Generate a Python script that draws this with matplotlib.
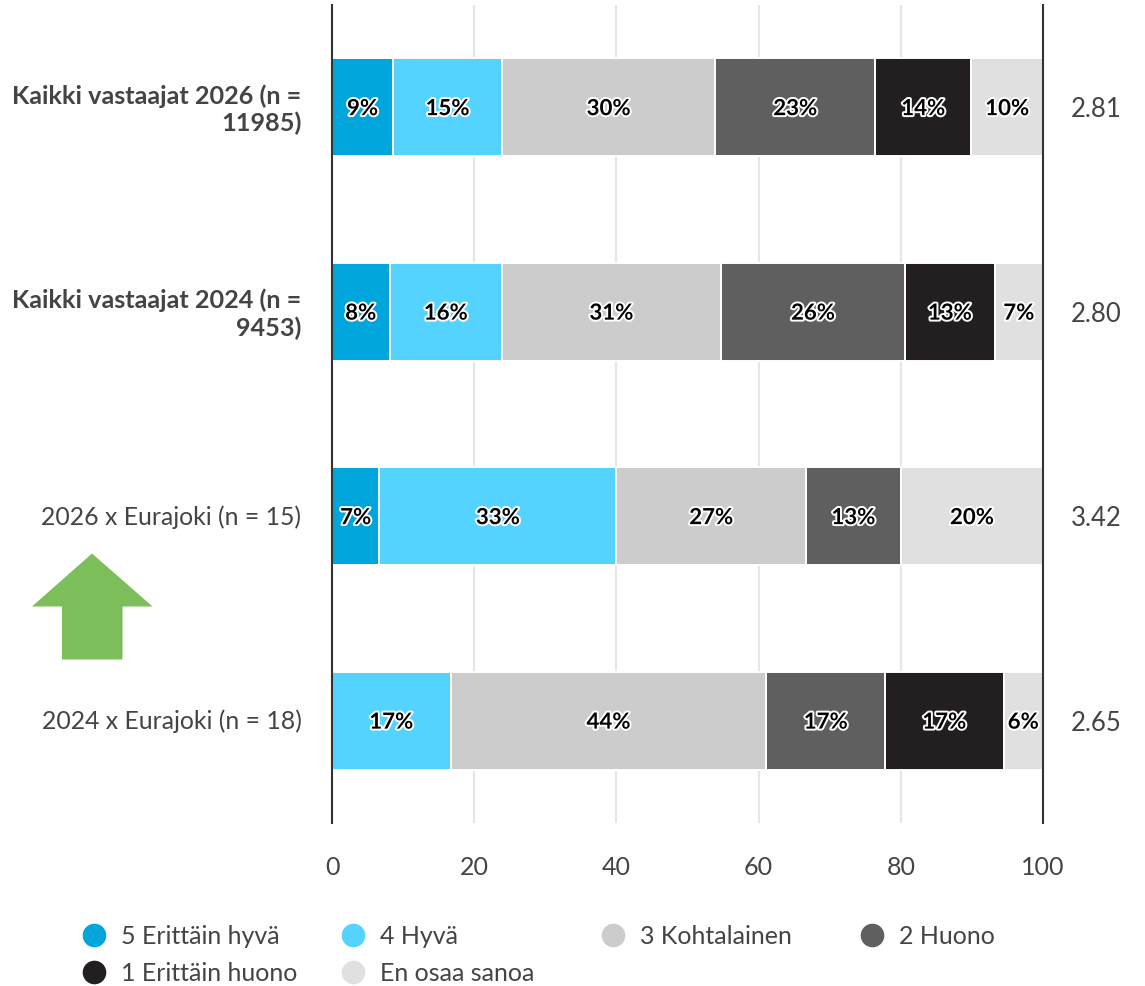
import numpy as np
import matplotlib
matplotlib.use("Agg")
import matplotlib.pyplot as plt
import matplotlib.patheffects as pe
from matplotlib.lines import Line2D
from matplotlib.patches import Polygon
from matplotlib.transforms import ScaledTranslation

plt.rcParams["font.family"] = ["Lato", "Open Sans", "DejaVu Sans"]

W = 1145
H = 987
TEXT = "#444444"

categories = ["Kaikki vastaajat 2026 (n =\n11985)", "Kaikki vastaajat 2024 (n =\n9453)",
              "2026 x Eurajoki (n = 15)", "2024 x Eurajoki (n = 18)"]
bold_rows = [True, True, False, False]
means = ["2.81", "2.80", "3.42", "2.65"]
series = ["5 Erittäin hyvä", "4 Hyvä", "3 Kohtalainen", "2 Huono", "1 Erittäin huono", "En osaa sanoa"]
colors = ["#00A5DB", "#55D3FF", "#CCCCCC", "#5F5F5F", "#231F20", "#E0E0E0"]
erittain_hyva = [8.6, 8.1, 6.67, 0]
hyva = [15.3, 15.8, 33.33, 16.67]
kohtalainen = [30.0, 30.8, 26.67, 44.44]
huono = [22.51, 25.9, 13.33, 16.67]
erittain_huono = [13.5, 12.6, 0, 16.67]
eos = [10.09, 6.8, 20.0, 5.55]
xticks = [0, 20, 40, 60, 80, 100]


def px_x(x):
    return x / W


def px_y(y):
    return 1 - y / H


fig = plt.figure(figsize=(W / 100, H / 100), dpi=100)
ax = fig.add_axes([px_x(332), px_y(824), (1043 - 332) / W, (824 - 6) / H])

y = np.arange(len(categories))
left = np.zeros(len(categories))
values = [erittain_hyva, hyva, kohtalainen, huono, erittain_huono, eos]
for vals, col in zip(values, colors):
    vals = np.array(vals)
    bars = ax.barh(y, vals, 0.48, left=left, color=col, edgecolor="white", linewidth=1.4, zorder=2)
    for b, v in zip(bars, vals):
        if v > 0:
            ax.annotate(f"{v:.0f}%", (b.get_x() + v / 2, b.get_y() + b.get_height() / 2),
                        xytext=(0, -1), textcoords="offset points", ha="center", va="center",
                        fontsize=16, fontweight="bold", color="black", zorder=3,
                        path_effects=[pe.withStroke(linewidth=2.8, foreground="white")])
    left += vals

ax.set_xlim(0, 100)
ax.set_ylim(len(categories) - 0.5, -0.5)
ax.set_xticks(xticks)
ax.set_yticks(y)
ax.set_yticklabels(categories)
ax.tick_params(axis="x", length=0, pad=23, labelsize=18, labelcolor=TEXT)
ax.tick_params(axis="y", length=0, pad=22, labelsize=18, labelcolor=TEXT)
for lab, b in zip(ax.get_yticklabels(), bold_rows):
    lab.set_fontweight("bold" if b else "normal")
    lab.set_fontsize(18.2 if b else 17.8)
    lab.set_transform(lab.get_transform() + ScaledTranslation(0, 2.5 / 100, fig.dpi_scale_trans))
ax.grid(axis="x", color="#E6E6E6", linewidth=1.5, zorder=0)
ax.set_axisbelow(True)
for s in ["top", "bottom"]:
    ax.spines[s].set_visible(False)
for s in ["left", "right"]:
    ax.spines[s].set_color("#333333")
    ax.spines[s].set_linewidth(1.5)
    ax.spines[s].set_zorder(4)

ax2 = ax.twinx()
ax2.set_ylim(ax.get_ylim())
ax2.set_yticks(y)
ax2.set_yticklabels(means)
ax2.tick_params(axis="y", length=0, pad=20, labelsize=18.5, labelcolor=TEXT)
for lab in ax2.get_yticklabels():
    lab.set_transform(lab.get_transform() + ScaledTranslation(0, 1 / 100, fig.dpi_scale_trans))
for s in ax2.spines.values():
    s.set_visible(False)

# arrow next to the 2026 row
arrow = [(32, 607.5), (92, 554.5), (152.5, 607.5), (122.5, 607.5), (122.5, 660.5), (62, 660.5), (62, 607.5)]
fig.add_artist(Polygon([(px_x(a), px_y(b)) for a, b in arrow], closed=True, transform=fig.transFigure,
                       facecolor="#7CBF5A", edgecolor="none"))

# legend, laid out by hand to keep the fixed columns
leg_x = [94, 353, 613, 872]
leg_y = [936, 973]
for i, (name, col) in enumerate(zip(series, colors)):
    lx = leg_x[i % 4]
    ly = leg_y[i // 4]
    fig.add_artist(Line2D([px_x(lx)], [px_y(ly)], marker="o", markersize=17, color=col, linestyle="none",
                          markeredgewidth=0, transform=fig.transFigure))
    fig.text(px_x(lx + 27), px_y(ly + 1), name, fontsize=18, color=TEXT, ha="left", va="center")

fig.savefig("out.png", dpi=100)
